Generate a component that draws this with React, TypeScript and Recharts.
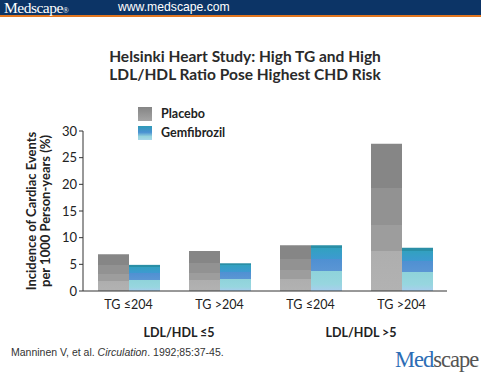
import React from "react";
import { BarChart, Bar, XAxis, YAxis } from "recharts";

const categories = ["TG ≤204", "TG >204", "TG ≤204", "TG >204"];
const placebo = [6.9, 7.5, 8.6, 27.6];
const gemfibrozil = [4.9, 5.2, 8.6, 8.1];
const groupLabels = ["LDL/HDL ≤5", "LDL/HDL >5"];
const groupPositions = [0.5, 2.5];
const yTicks = [0, 5, 10, 15, 20, 25, 30];

const data = categories.map((c, i) => ({
  cat: c,
  pos: i,
  placebo: placebo[i],
  gemfibrozil: gemfibrozil[i],
}));

const FONT = "Lato, 'Open Sans', 'DejaVu Sans', sans-serif";

const YLabel = (props: any) => {
  const vb = props.viewBox || {};
  const cy = vb.y + vb.height / 2;
  return (
    <g>
      <text
        x={0}
        y={0}
        transform={`translate(36, ${cy}) rotate(-90)`}
        textAnchor="middle"
        fontFamily={FONT}
        fontWeight={700}
        fontSize={13}
        fill="#222"
      >
        Incidence of Cardiac Events
      </text>
      <text
        x={0}
        y={0}
        transform={`translate(50, ${cy}) rotate(-90)`}
        textAnchor="middle"
        fontFamily={FONT}
        fontWeight={700}
        fontSize={13}
        fill="#222"
      >
        per 1000 Person-years (%)
      </text>
    </g>
  );
};

const GroupTick = (props: any) => {
  const { x, y, payload } = props;
  const idx = groupPositions.indexOf(payload.value);
  return (
    <text
      x={x + 5}
      y={y + 12}
      textAnchor="middle"
      fontFamily={FONT}
      fontWeight={700}
      fontSize={12.5}
      fill="#222"
    >
      {idx >= 0 ? groupLabels[idx] : ""}
    </text>
  );
};

const LegendBox = () => (
  <div
    style={{
      position: "absolute",
      left: 138,
      top: 104,
      fontFamily: FONT,
      fontWeight: 700,
      fontSize: 12.5,
      color: "#222",
    }}
  >
    <div style={{ display: "flex", alignItems: "center", height: 19 }}>
      <div
        style={{
          width: 14,
          height: 14,
          marginRight: 9,
          background: "linear-gradient(#858585, #a5a5a5)",
        }}
      />
      Placebo
    </div>
    <div style={{ display: "flex", alignItems: "center", height: 19 }}>
      <div
        style={{
          width: 14,
          height: 14,
          marginRight: 9,
          background: "linear-gradient(#2f9bb8 0%, #4a92d2 45%, #95d4dc 75%, #a8d8ea 100%)",
        }}
      />
      Gemfibrozil
    </div>
  </div>
);

export default function App() {
  return (
    <div
      style={{
        position: "absolute",
        left: 0,
        top: 0,
        width: 481,
        height: 379,
        background: "#fff",
        overflow: "hidden",
      }}
    >
      <div
        style={{
          position: "absolute",
          left: 0,
          top: 0,
          width: 481,
          height: 15,
          background: "#0c3466",
          borderBottom: "2px solid #e2761f",
        }}
      >
        <span
          style={{
            position: "absolute",
            left: 4,
            top: 0,
            lineHeight: "15px",
            fontFamily: "'Liberation Serif', serif",
            fontSize: 15.5,
            color: "#fff",
            letterSpacing: -0.5,
          }}
        >
          Medscape<span style={{ fontSize: 8 }}>®</span>
        </span>
        <span
          style={{
            position: "absolute",
            left: 118,
            top: 0,
            lineHeight: "15px",
            fontFamily: "'Liberation Sans', Arial, sans-serif",
            fontSize: 12.2,
            color: "#fff",
          }}
        >
          www.medscape.com
        </span>
      </div>
      <div
        style={{
          position: "absolute",
          left: 0,
          top: 47,
          width: 490,
          textAlign: "center",
          fontFamily: FONT,
          fontWeight: 700,
          fontSize: 15.5,
          lineHeight: "18px",
          color: "#2a2a2a",
        }}
      >
        Helsinki Heart Study: High TG and High
        <br />
        LDL/HDL Ratio Pose Highest CHD Risk
      </div>
      <div style={{ position: "absolute", left: 0, top: 0 }}>
        <BarChart
          width={481}
          height={379}
          data={data}
          margin={{ top: 131, right: 34, bottom: 32, left: 43 }}
          barCategoryGap={15}
          barGap={0}
        >
          <defs>
            <linearGradient id="gPlacebo" x1="0" y1="0" x2="0" y2="1">
              <stop offset="0" stopColor="#868686" />
              <stop offset="0.3" stopColor="#868686" />
              <stop offset="0.3" stopColor="#929292" />
              <stop offset="0.55" stopColor="#929292" />
              <stop offset="0.55" stopColor="#9d9d9d" />
              <stop offset="0.73" stopColor="#9d9d9d" />
              <stop offset="0.73" stopColor="#aeaeae" />
              <stop offset="1" stopColor="#b2b2b2" />
            </linearGradient>
            <linearGradient id="gGem" x1="0" y1="0" x2="0" y2="1">
              <stop offset="0" stopColor="#2a8fa6" />
              <stop offset="0.07" stopColor="#2a8fa6" />
              <stop offset="0.07" stopColor="#32a1c0" />
              <stop offset="0.3" stopColor="#3d9ad0" />
              <stop offset="0.3" stopColor="#4f90d2" />
              <stop offset="0.57" stopColor="#5b96d4" />
              <stop offset="0.57" stopColor="#8fd3da" />
              <stop offset="0.85" stopColor="#97d6df" />
              <stop offset="1" stopColor="#a9cdee" />
            </linearGradient>
          </defs>
          <XAxis
            xAxisId="cat"
            dataKey="cat"
            height={26}
            stroke="#333"
            tickLine={false}
            tick={{ fontFamily: FONT, fontSize: 12.5, fill: "#222" }}
            tickMargin={3}
          />
          <XAxis
            xAxisId="grp"
            dataKey="pos"
            type="number"
            domain={[-0.5, 3.5]}
            allowDataOverflow
            ticks={groupPositions}
            axisLine={false}
            tickLine={false}
            height={30}
            tick={<GroupTick />}
          />
          <YAxis
            domain={[0, 30]}
            ticks={yTicks}
            width={40}
            stroke="#333"
            tickSize={4}
            tick={{ fontFamily: FONT, fontSize: 13, fill: "#222" }}
            label={<YLabel />}
          />
          <Bar
            xAxisId="cat"
            dataKey="placebo"
            name="Placebo"
            fill="url(#gPlacebo)"
            isAnimationActive={false}
          />
          <Bar
            xAxisId="cat"
            dataKey="gemfibrozil"
            name="Gemfibrozil"
            fill="url(#gGem)"
            isAnimationActive={false}
          />
        </BarChart>
      </div>
      <LegendBox />
      <div
        style={{
          position: "absolute",
          left: 11,
          top: 346,
          fontFamily: "'Liberation Sans', Arial, sans-serif",
          fontSize: 10.5,
          color: "#333",
        }}
      >
        Manninen V, et al. <i>Circulation</i>. 1992;85:37-45.
      </div>
      <div
        style={{
          position: "absolute",
          left: 395,
          top: 347,
          fontFamily: "'Liberation Serif', serif",
          fontSize: 22.5,
          letterSpacing: -1,
          color: "#555",
        }}
      >
        <span style={{ color: "#2c6db5" }}>Med</span>scape
      </div>
    </div>
  );
}
